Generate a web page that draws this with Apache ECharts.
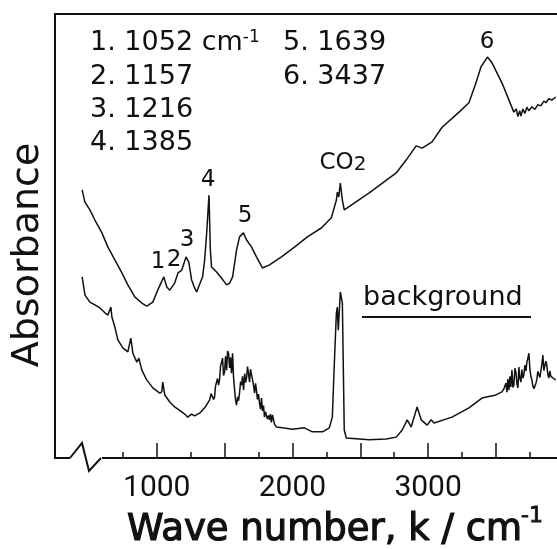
<!DOCTYPE html>
<html>
<head>
<meta charset="utf-8">
<script src="https://cdn.jsdelivr.net/npm/echarts@6/dist/echarts.min.js"></script>
<style>
html, body { margin: 0; padding: 0; background: #fff; }
#main { width: 557px; height: 549px; }
</style>
</head>
<body>
<div id="main"></div>
<script>
// sample spectrum (upper trace)
var sampleWave = [
    450, 470, 507, 544, 596, 640, 691, 743, 787, 838,
    890, 926, 971, 1007, 1052, 1074, 1096, 1132, 1157, 1184,
    1216, 1236, 1257, 1279, 1294, 1338, 1353, 1368, 1385, 1395,
    1404, 1441, 1478, 1515, 1537, 1559, 1588, 1610, 1639, 1662,
    1699, 1735, 1779, 1831, 1919, 2015, 2110, 2213, 2287, 2324,
    2331, 2342, 2353, 2368, 2382, 2566, 2765, 2838, 2912, 2956,
    3029, 3103, 3228, 3301, 3353, 3390, 3437, 3471, 3544, 3596,
    3632, 3650, 3662, 3676, 3684, 3699, 3713, 3728, 3743, 3765,
    3787, 3809, 3831, 3853, 3868, 3890, 3912, 3941
];
var sampleAbs = [
    60.4, 57.7, 55.9, 53.6, 50.7, 47.5, 44.6, 41.7, 39.0, 36.3,
    34.9, 34.2, 35.1, 37.8, 40.8, 38.5, 37.8, 39.4, 41.7, 42.3,
    45.3, 44.1, 40.1, 38.3, 37.4, 40.8, 44.6, 50.7, 59.2, 46.8,
    43.0, 41.9, 40.5, 39.0, 39.4, 40.8, 46.8, 49.8, 50.7, 49.1,
    47.5, 45.3, 42.8, 43.5, 45.3, 47.5, 49.8, 51.8, 54.1, 58.1,
    59.9, 58.8, 61.9, 58.1, 55.9, 59.7, 64.2, 67.1, 70.3, 69.8,
    71.2, 74.5, 77.9, 80.0, 84.5, 88.1, 90.3, 89.0, 84.5, 80.6,
    77.9, 78.6, 76.9, 78.2, 77.0, 78.6, 77.6, 79.0, 78.2, 79.1,
    78.5, 79.6, 79.3, 80.4, 80.0, 80.9, 80.6, 81.3
];

// background spectrum (lower trace)
var bgWave = [
    450, 471, 507, 544, 581, 618, 640, 662, 669, 691,
    713, 750, 787, 809, 824, 853, 868, 890, 926, 971,
    1022, 1037, 1044, 1059, 1096, 1132, 1184, 1206, 1228, 1257,
    1279, 1316, 1353, 1390, 1400, 1412, 1419, 1426, 1433, 1441,
    1448, 1455, 1463, 1470, 1478, 1485, 1492, 1500, 1507, 1515,
    1522, 1529, 1537, 1544, 1551, 1559, 1566, 1574, 1581, 1588,
    1596, 1603, 1610, 1618, 1625, 1632, 1640, 1648, 1655, 1662,
    1669, 1676, 1684, 1691, 1699, 1706, 1713, 1721, 1728, 1735,
    1742, 1750, 1757, 1765, 1772, 1779, 1787, 1794, 1801, 1809,
    1816, 1824, 1831, 1838, 1845, 1853, 1868, 1882, 1926, 2000,
    2088, 2147, 2221, 2272, 2294, 2309, 2324, 2331, 2338, 2353,
    2368, 2382, 2397, 2566, 2691, 2765, 2809, 2846, 2875, 2919,
    2949, 2993, 3022, 3044, 3176, 3301, 3397, 3500, 3544, 3559,
    3574, 3581, 3588, 3596, 3603, 3610, 3618, 3625, 3632, 3640,
    3647, 3655, 3662, 3669, 3676, 3684, 3691, 3699, 3706, 3713,
    3721, 3728, 3735, 3743, 3750, 3758, 3765, 3772, 3780, 3787,
    3794, 3801, 3809, 3816, 3824, 3831, 3838, 3846, 3853, 3860,
    3868, 3875, 3882, 3890, 3897, 3905, 3912, 3926, 3941
];
var bgAbs = [
    40.8, 36.7, 35.1, 34.5, 33.8, 32.7, 32.2, 34.0, 31.8, 29.5,
    26.6, 24.8, 23.9, 27.0, 23.6, 21.6, 22.5, 19.8, 17.6, 15.8,
    14.6, 14.9, 17.1, 14.2, 12.6, 11.5, 10.4, 9.9, 9.2, 9.9,
    9.5, 10.1, 11.3, 13.1, 14.5, 14.9, 13.2, 13.7, 16.2, 15.8,
    17.9, 16.4, 17.6, 20.8, 21.6, 22.5, 18.6, 19.4, 22.9, 19.8,
    24.1, 23.6, 20.3, 22.7, 19.1, 23.6, 18.2, 15.3, 13.0, 11.9,
    13.8, 12.9, 14.6, 17.2, 16.4, 18.4, 15.3, 19.0, 17.0, 18.0,
    20.6, 19.1, 17.1, 20.0, 20.3, 17.6, 16.4, 14.6, 16.8, 15.3,
    13.2, 14.4, 12.4, 11.0, 13.5, 10.6, 11.8, 9.2, 10.4, 10.8,
    8.8, 9.6, 8.6, 9.9, 8.0, 9.7, 7.6, 7.0, 6.8, 6.5,
    6.8, 5.9, 5.9, 6.8, 9.2, 21.4, 32.7, 34.0, 28.8, 37.4,
    34.9, 6.3, 4.5, 4.1, 4.3, 4.7, 6.3, 8.6, 7.0, 11.5,
    8.6, 7.4, 8.6, 7.9, 9.2, 11.3, 13.5, 14.2, 14.9, 15.6,
    16.9, 14.8, 17.8, 15.3, 18.4, 16.0, 19.8, 15.9, 16.4, 20.2,
    19.4, 16.6, 15.8, 20.5, 18.0, 17.1, 19.9, 18.0, 18.7, 20.9,
    19.6, 21.6, 22.4, 23.6, 20.0, 18.3, 17.6, 16.2, 15.6, 15.3,
    16.8, 17.6, 19.5, 19.8, 18.1, 18.0, 21.0, 23.2, 19.7, 19.4,
    21.8, 20.9, 18.9, 18.0, 19.6, 18.4, 18.7, 17.9, 17.6
];

var majorTicks = [1000, 1500, 2000, 2500, 3000, 3500];
var minorTicks = [750, 1250, 1750, 2250, 2750, 3250, 3750];
var tickLabels = [1000, 2000, 3000];

function zip(xs, ys) {
    return xs.map(function (x, i) { return [x, ys[i]]; });
}

var ink = '#111';
var font = 'DejaVu Sans';

window.addEventListener('load', function () {
    var chart = echarts.init(document.getElementById('main'));

    var legendLines = [
        ['1. 1052 cm{sup|-1}', 90, 43],
        ['2. 1157', 90, 77],
        ['3. 1216', 90, 110],
        ['4. 1385', 90, 143],
        ['5. 1639', 283, 43],
        ['6. 3437', 283, 77]
    ];
    var peakLabels = [
        ['1', 158, 262], ['2', 174, 260], ['3', 187, 240],
        ['4', 208, 180], ['5', 245, 216], ['6', 487, 42],
        ['CO{sub|2}', 343, 163]
    ];

    var graphics = [];
    legendLines.forEach(function (l) {
        graphics.push({
            type: 'text', x: l[1], y: l[2], z: 50,
            style: {
                text: l[0], fill: ink, font: '27px "' + font + '"',
                textAlign: 'left', textVerticalAlign: 'middle',
                rich: { sup: { fontSize: 17, fontFamily: font, verticalAlign: 'top', fill: ink } }
            }
        });
    });
    peakLabels.forEach(function (l) {
        graphics.push({
            type: 'text', x: l[1], y: l[2], z: 50,
            style: {
                text: l[0], fill: ink, font: '23px "' + font + '"',
                textAlign: 'center', textVerticalAlign: 'middle',
                rich: { sub: { fontSize: 20, fontFamily: font, verticalAlign: 'bottom', fill: ink } }
            }
        });
    });
    graphics.push(
        {
            type: 'text', x: 363, y: 298, z: 50,
            style: { text: 'background', fill: ink, font: '27px "' + font + '"', textAlign: 'left', textVerticalAlign: 'middle' }
        },
        { type: 'line', z: 50, shape: { x1: 362, y1: 317, x2: 531, y2: 317 }, style: { stroke: ink, lineWidth: 2 } },
        {
            type: 'text', x: 28, y: 255, rotation: Math.PI / 2, z: 50,
            style: { text: 'Absorbance', fill: ink, font: '38px "' + font + '"', textAlign: 'center', textVerticalAlign: 'middle' }
        },
        {
            type: 'text', x: 127, y: 530, z: 50,
            style: {
                text: 'Wave number, k / cm', fill: ink, font: '37px "' + font + '"',
                stroke: ink, lineWidth: 1.2,
                textAlign: 'left', textVerticalAlign: 'middle'
            }
        },
        {
            type: 'text', x: 521, y: 516, z: 50,
            style: {
                text: '-1', fill: ink, font: '22px "' + font + '"',
                stroke: ink, lineWidth: 0.8,
                textAlign: 'left', textVerticalAlign: 'middle'
            }
        },
        // axis break
        { type: 'rect', z: 100, shape: { x: 70, y: 455, width: 32, height: 6 }, style: { fill: '#fff' } },
        { type: 'polyline', z: 101, shape: { points: [[70, 458], [82, 443], [89, 471], [101, 458]] }, style: { stroke: ink, lineWidth: 2, fill: null } }
    );

    var baseX = { type: 'value', min: 250, max: 3950, splitLine: { show: false } };

    chart.setOption({
        animation: false,
        backgroundColor: '#fff',
        grid: { left: 55, right: 0, top: 14, bottom: 91 },
        xAxis: [
            Object.assign({}, baseX, {
                position: 'bottom',
                axisLine: { show: true, lineStyle: { color: ink, width: 2 } },
                axisTick: { show: true, inside: true, length: 15, customValues: majorTicks, lineStyle: { color: ink, width: 1.5 } },
                axisLabel: {
                    show: true, customValues: tickLabels, margin: 15, color: ink, fontSize: 30, fontFamily: 'Roboto',
                    formatter: function (v) { return String(v); }
                }
            }),
            Object.assign({}, baseX, {
                position: 'bottom',
                axisLine: { show: false },
                axisTick: { show: true, inside: true, length: 6, customValues: minorTicks, lineStyle: { color: ink, width: 1.5 } },
                axisLabel: { show: false }
            }),
            Object.assign({}, baseX, {
                position: 'top',
                axisLine: { show: true, lineStyle: { color: ink, width: 2 } },
                axisTick: { show: false },
                axisLabel: { show: false }
            })
        ],
        yAxis: {
            type: 'value', min: 0, max: 100,
            axisLine: { show: true, lineStyle: { color: ink, width: 2 } },
            axisTick: { show: false },
            axisLabel: { show: false },
            splitLine: { show: false }
        },
        series: [
            {
                name: 'sample', type: 'line', xAxisIndex: 0, data: zip(sampleWave, sampleAbs),
                showSymbol: false, symbol: 'none', lineStyle: { color: ink, width: 1.5 }
            },
            {
                name: 'background', type: 'line', xAxisIndex: 0, data: zip(bgWave, bgAbs),
                showSymbol: false, symbol: 'none', lineStyle: { color: ink, width: 1.5 }
            }
        ],
        graphic: graphics
    });
});
</script>
</body>
</html>
